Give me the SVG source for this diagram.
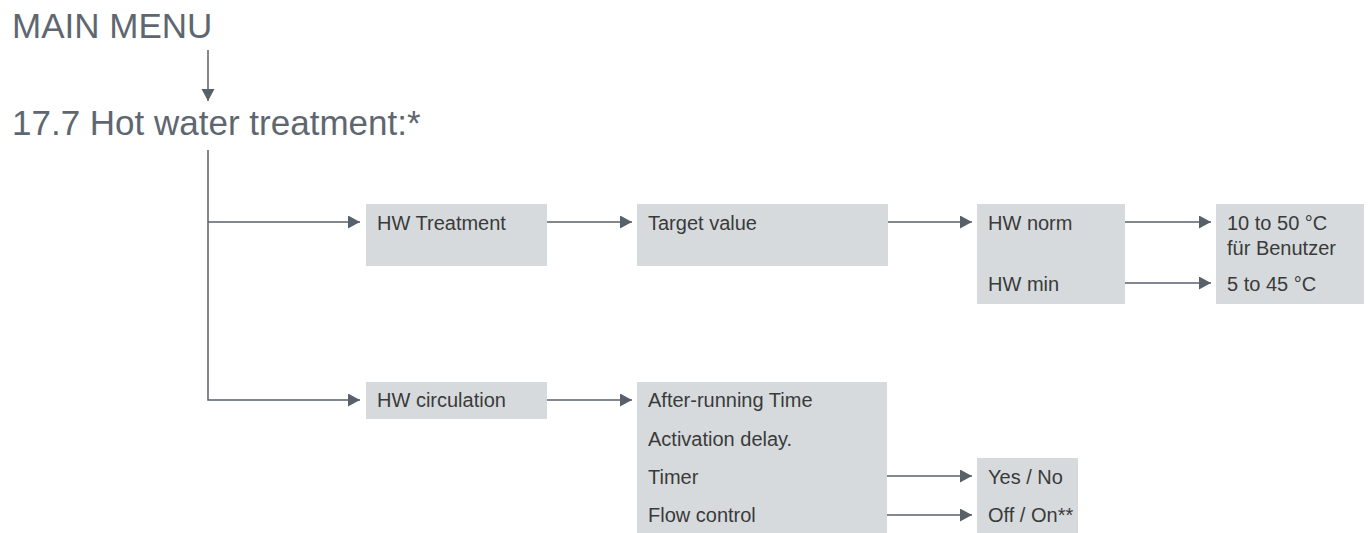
<svg xmlns="http://www.w3.org/2000/svg" width="1370" height="533" viewBox="0 0 1370 533">
<defs>
<style>
.title{font-family:"Liberation Sans",Arial,sans-serif;fill:#5e6770;}
.box{fill:#d6dadd;}
.lbl{font-family:"Liberation Sans",Arial,sans-serif;font-size:20px;fill:#3a3a3a;}
.ln{stroke:#58606a;stroke-width:1.5;fill:none;}
</style>
<marker id="ah" markerUnits="userSpaceOnUse" markerWidth="13" markerHeight="14" refX="12" refY="6.5" orient="auto">
<path d="M0,0 L12,6.5 L0,13 Z" fill="#58606a"/>
</marker>
</defs>
<rect width="1370" height="533" fill="#ffffff"/>
<g id="main-menu"><text class="title" x="12" y="38" font-size="35">MAIN MENU</text></g>
<g id="hot-water"><text class="title" x="12" y="135" font-size="35">17.7 Hot water treatment:*</text></g>
<g id="hw-treatment"><rect class="box" x="366" y="204" width="181" height="62"/><text class="lbl" x="377" y="230">HW Treatment</text></g>
<g id="target-value"><rect class="box" x="637" y="204" width="251" height="62"/><text class="lbl" x="648" y="230">Target value</text></g>
<g id="hw-norm-min"><rect class="box" x="977" y="204" width="148" height="100"/><text class="lbl" x="988" y="230">HW norm</text><text class="lbl" x="988" y="291">HW min</text></g>
<g id="ranges"><rect class="box" x="1216" y="204" width="148" height="100"/><text class="lbl" x="1227" y="230">10 to 50 °C</text><text class="lbl" x="1227" y="255">für Benutzer</text><text class="lbl" x="1227" y="291">5 to 45 °C</text></g>
<g id="hw-circulation"><rect class="box" x="366" y="382" width="181" height="37"/><text class="lbl" x="377" y="407">HW circulation</text></g>
<g id="circ-options"><rect class="box" x="637" y="382" width="250" height="151"/><text class="lbl" x="648" y="407">After-running Time</text><text class="lbl" x="648" y="446">Activation delay.</text><text class="lbl" x="648" y="484">Timer</text><text class="lbl" x="648" y="522">Flow control</text></g>
<g id="yes-no"><rect class="box" x="977" y="458" width="101" height="75"/><text class="lbl" x="988" y="484">Yes / No</text><text class="lbl" x="988" y="522">Off / On**</text></g>
<g id="connectors">
<line class="ln" x1="208" y1="50" x2="208" y2="101" marker-end="url(#ah)"/>
<polyline class="ln" points="208,150 208,400 360,400" marker-end="url(#ah)"/>
<line class="ln" x1="208" y1="222" x2="360" y2="222" marker-end="url(#ah)"/>
<line class="ln" x1="547" y1="222" x2="632" y2="222" marker-end="url(#ah)"/>
<line class="ln" x1="888" y1="222" x2="972" y2="222" marker-end="url(#ah)"/>
<line class="ln" x1="1125" y1="222" x2="1211" y2="222" marker-end="url(#ah)"/>
<line class="ln" x1="1125" y1="283" x2="1211" y2="283" marker-end="url(#ah)"/>
<line class="ln" x1="547" y1="400" x2="632" y2="400" marker-end="url(#ah)"/>
<line class="ln" x1="887" y1="476" x2="972" y2="476" marker-end="url(#ah)"/>
<line class="ln" x1="887" y1="515" x2="972" y2="515" marker-end="url(#ah)"/>
</g>
</svg>
